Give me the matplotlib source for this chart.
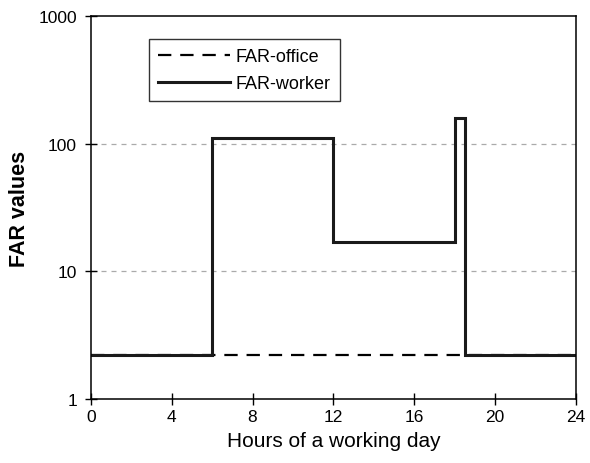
import matplotlib
matplotlib.use("Agg")
import matplotlib.pyplot as plt
from matplotlib.ticker import FixedLocator, NullLocator

plt.rcParams['font.family'] = ['Liberation Sans', 'DejaVu Sans']

# data: step profiles over the day (hours, FAR value)
office_hours = [0, 24]
office_far = [2.2, 2.2]

worker_hours = [0, 6, 6, 12, 12, 18, 18, 18.5, 18.5, 24]
worker_far = [2.2, 2.2, 110, 110, 17, 17, 160, 160, 2.2, 2.2]

xticks = [0, 4, 8, 12, 16, 20, 24]
yticks = [1, 10, 100, 1000]

fig = plt.figure(figsize=(5.9, 4.64), dpi=100)
ax = fig.add_axes([0.154, 0.138, 0.822, 0.825])

ax.plot(office_hours, office_far, color='black', lw=1.6, ls=(0, (6, 4)), label='FAR-office')
ax.plot(worker_hours, worker_far, color='#1a1a1a', lw=2.2, label='FAR-worker',
        solid_joinstyle='miter')

ax.set_yscale('log')
ax.set_xlim(0, 24)
ax.set_ylim(1, 1000)
ax.xaxis.set_major_locator(FixedLocator(xticks))
ax.yaxis.set_major_locator(FixedLocator(yticks))
ax.yaxis.set_minor_locator(NullLocator())
ax.set_yticklabels([str(v) for v in yticks])

for yv in [10, 100]:
    ax.axhline(yv, color='#aaaaaa', lw=0.9, ls=(0, (4, 4)), zorder=0)

ax.tick_params(direction='inout', length=8, width=1, labelsize=12.5, pad=3)
ax.tick_params(axis='y', pad=6)
for s in ax.spines.values():
    s.set_linewidth(1.1)

ax.set_xlabel('Hours of a working day', fontsize=15, labelpad=5)
ax.set_ylabel('FAR values', fontsize=15.5, fontweight='bold', labelpad=6)

leg = ax.legend(loc='upper left', bbox_to_anchor=(0.12, 0.94), fontsize=13,
                frameon=True, fancybox=False, edgecolor='black', handlelength=4.0,
                handletextpad=0.3, borderpad=0.5, labelspacing=0.55, borderaxespad=0)
leg.get_frame().set_linewidth(1.0)

fig.savefig('out.png', dpi=100)
